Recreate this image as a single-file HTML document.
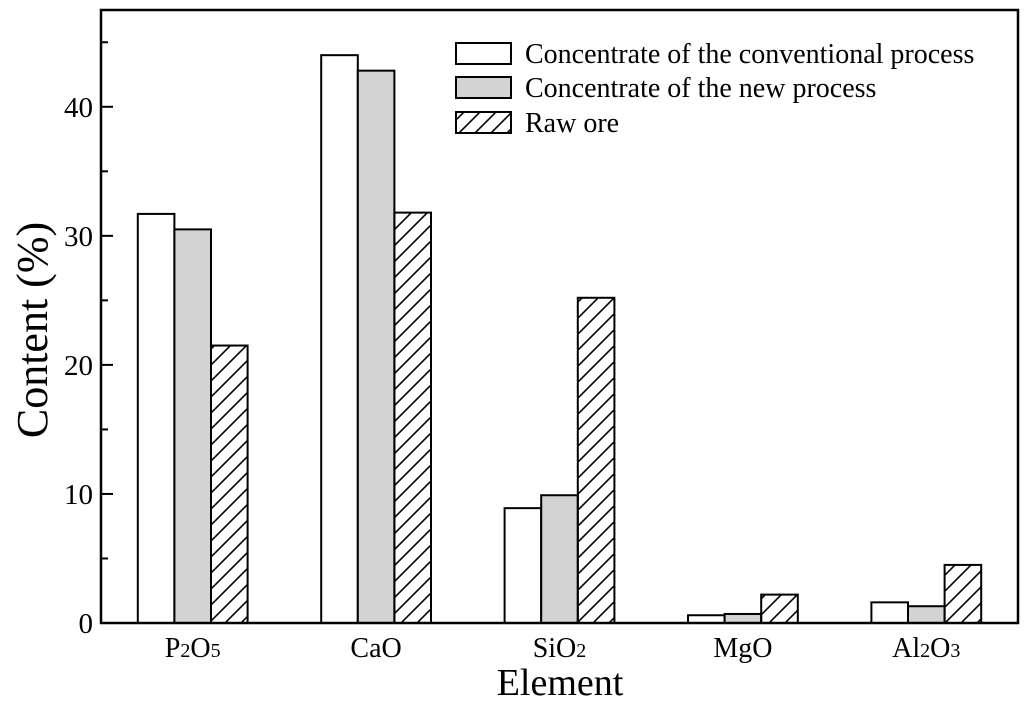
<!DOCTYPE html>
<html><head><meta charset="utf-8"><style>
body{margin:0;background:#fff}
svg{display:block;font-family:"Liberation Serif",serif}
</style></head><body>
<svg id="chart" width="1024" height="707" viewBox="0 0 1024 707">
<defs>
<pattern id="hatch" patternUnits="userSpaceOnUse" width="16" height="16">
<path d="M-4,4 L4,-4 M0,16 L16,0 M12,20 L20,12" stroke="#000" stroke-width="1.6"/>
</pattern>
</defs>
<g id="bars"></g>
<rect x="101" y="10" width="917" height="613" fill="none" stroke="#000" stroke-width="2.5"/>
<g id="yticks"></g>
<g id="xlabels" font-size="28"></g>
<text transform="translate(47,330) rotate(-90)" text-anchor="middle" font-size="44">Content (%)</text>
<text x="560" y="695" text-anchor="middle" font-size="38">Element</text>
<g font-size="28">
<rect x="456" y="43" width="55" height="21" fill="#fff" stroke="#000" stroke-width="2"/>
<text x="525" y="63">Concentrate of the conventional process</text>
<rect x="456" y="77" width="55" height="21" fill="#d3d3d3" stroke="#000" stroke-width="2"/>
<text x="525" y="97">Concentrate of the new process</text>
<rect x="456" y="112" width="55" height="21" fill="url(#hatch)" stroke="#000" stroke-width="2"/>
<text x="525" y="132">Raw ore</text>
</g>
</svg>
<script>
const categories=[["P","2","O","5"],["CaO"],["SiO","2"],["MgO"],["Al","2","O","3"]];
const conventional=[31.7,44.0,8.9,0.6,1.6];
const newProcess=[30.5,42.8,9.9,0.7,1.3];
const rawOre=[21.5,31.8,25.2,2.2,4.5];
const yTicks=[0,10,20,30,40];
const yMinor=[5,15,25,35,45];
const NS="http://www.w3.org/2000/svg";
const X0=101,X1=1018,Y0=623,Y1=10,YMAX=47.5;
const y=v=>Y0-(v/YMAX)*(Y0-Y1);
const x=i=>X0+(i+0.5)*(X1-X0)/categories.length;
const bw=36.6;
const series=[[conventional,"#fff","conventional"],[newProcess,"#d3d3d3","new"],[rawOre,"url(#hatch)","raw"]];
const gb=document.getElementById("bars");
series.forEach(([vals,fill,nm],s)=>{
 vals.forEach((v,i)=>{
  const r=document.createElementNS(NS,"rect");
  const cx=x(i)+(s-1)*bw;
  r.setAttribute("x",cx-bw/2);r.setAttribute("y",y(v));
  r.setAttribute("width",bw);r.setAttribute("height",Y0-y(v));
  r.setAttribute("fill",fill);r.setAttribute("stroke","#000");r.setAttribute("stroke-width","2");
  
  
  gb.appendChild(r);
 });
});
const gt=document.getElementById("yticks");
yTicks.forEach(t=>{
 const l=document.createElementNS(NS,"line");
 l.setAttribute("x1",X0);l.setAttribute("x2",X0+12);l.setAttribute("y1",y(t));l.setAttribute("y2",y(t));
 l.setAttribute("stroke","#000");l.setAttribute("stroke-width","2");
 
 
 gt.appendChild(l);
 const tx=document.createElementNS(NS,"text");
 tx.setAttribute("x",93);tx.setAttribute("y",y(t)+10);tx.setAttribute("text-anchor","end");tx.setAttribute("font-size","29");
 tx.textContent=t;
 
 
 gt.appendChild(tx);
});
yMinor.forEach(t=>{
 const l=document.createElementNS(NS,"line");
 l.setAttribute("x1",X0);l.setAttribute("x2",X0+7);l.setAttribute("y1",y(t));l.setAttribute("y2",y(t));
 l.setAttribute("stroke","#000");l.setAttribute("stroke-width","2");
 
 
 gt.appendChild(l);
});
const gx=document.getElementById("xlabels");
categories.forEach((parts,i)=>{
 const tx=document.createElementNS(NS,"text");
 tx.setAttribute("x",x(i));tx.setAttribute("y",657);tx.setAttribute("text-anchor","middle");
 parts.forEach((p,k)=>{
  const sp=document.createElementNS(NS,"tspan");
  if(/^\d$/.test(p)) sp.setAttribute("font-size","20");
  sp.textContent=p;tx.appendChild(sp);
 });
 
 
 gx.appendChild(tx);
});
</script>
</body></html>
